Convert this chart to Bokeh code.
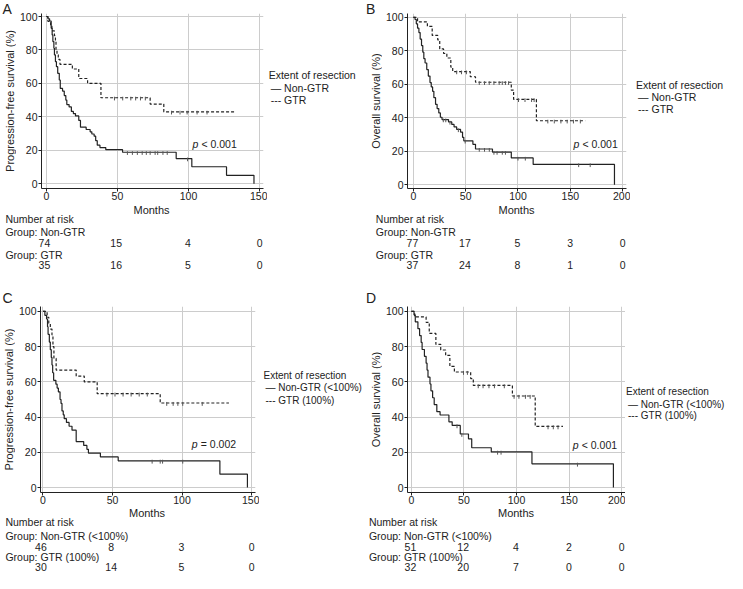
import numpy as np
from bokeh.plotting import figure
from bokeh.layouts import column, row
from bokeh.models import Label, FixedTicker, Range1d
from bokeh.core.properties import value
from bokeh.embed import file_html
from bokeh.resources import INLINE

FONT = "Liberation Sans"
INK = "#222222"

# ---------------- data (months, % surviving) ----------------
# Panel A : progression-free survival
A_NON_T = [0, 1.1, 2.3, 3.4, 4.1, 4.6, 5.3, 5.7, 6.4, 7.1, 8.0, 9.1, 9.8, 11.4, 12.6, 13.7, 14.4, 16.0, 17.6,
           19.0, 20.5, 22.8, 24.0, 28.0, 30.8, 32.0, 33.6, 34.7, 35.8, 37.7, 41.8, 53.6, 91.3, 102.3, 126.7, 146.0]
A_NON_S = [100, 98.6, 97.3, 93.0, 89.0, 85.0, 81.0, 77.0, 73.0, 70.0, 66.0, 62.0, 57.0, 55.4, 52.7, 50.0, 47.3, 45.9, 43.2,
           41.9, 40.5, 37.8, 33.8, 32.4, 31.0, 29.7, 28.4, 25.7, 23.0, 21.6, 20.3, 18.8, 15.0, 10.1, 5.0, 0.0]
A_NON_CENS = [57, 60.5, 64, 67.4, 70.3, 73, 76.5, 78.3, 82, 85, 99.3]
A_GTR_T = [0, 1.1, 3.0, 3.9, 5.7, 6.4, 6.8, 7.5, 8.4, 9.6, 18.3, 22.8, 29.0, 38.4, 73.0, 82.6, 133.0]
A_GTR_S = [100, 97.1, 94.3, 91.4, 88.6, 85.7, 80.0, 77.1, 74.3, 71.4, 68.6, 62.9, 60.0, 51.4, 47.6, 43.0, 43.0]
A_GTR_CENS = [47.9, 53.7, 59.4, 62.8, 66.2, 69.6, 88, 94, 99, 106, 113]
A_RISK_NON = [74, 15, 4, 0]
A_RISK_GTR = [35, 16, 5, 0]
A_TICKS = [0, 50, 100, 150]

# Panel B : overall survival
B_NON_T = [0, 1.6, 2.8, 4.0, 5.3, 6.5, 7.8, 9.0, 10.0, 11.2, 12.8, 14.3, 15.9, 17.1, 18.4, 19.6, 21.2, 22.7, 24.3,
           25.8, 27.4, 33.6, 36.7, 38.9, 41.4, 45.1, 47.0, 48.2, 56.9, 59.4, 75.6, 93.6, 114.5, 192.2]
B_NON_S = [100, 98.7, 96.1, 93.5, 90.9, 87.0, 83.1, 79.2, 75.3, 72.7, 68.8, 64.9, 61.0, 58.4, 55.8, 52.0, 48.0, 45.5, 42.9,
           40.3, 38.9, 37.5, 36.0, 34.5, 33.0, 31.4, 28.3, 26.2, 24.1, 21.3, 19.5, 16.0, 12.1, 0.0]
B_NON_CENS = [28.6, 31, 35, 43, 49.5, 63, 68, 72.6, 77, 80, 85, 88, 100, 107, 158, 169]
B_GTR_T = [0, 4.0, 13.4, 18.0, 23.3, 25.2, 28.9, 32.0, 35.8, 37.6, 54.4, 59.4, 93.6, 95.8, 117.6, 164.2]
B_GTR_S = [100, 97.3, 94.6, 89.2, 86.5, 81.1, 78.4, 75.7, 70.3, 67.6, 64.5, 61.2, 56.5, 51.0, 38.2, 38.2]
B_GTR_CENS = [41.4, 46, 50.7, 63, 68, 72.5, 77, 82, 85, 88, 91, 100.5, 106.7, 113, 115.4,
              128.5, 134.7, 141, 147, 153, 159.6]
B_RISK_NON = [77, 17, 5, 3, 0]
B_RISK_GTR = [37, 24, 8, 1, 0]
B_TICKS = [0, 50, 100, 150, 200]

# Panel C : progression-free survival, complete resection
C_NON_T = [0, 1.4, 2.6, 3.3, 3.7, 4.6, 5.3, 6.0, 6.5, 7.0, 7.7, 9.3, 10.2, 11.1, 12.3, 13.0, 13.7, 14.6, 15.3,
           16.9, 18.8, 20.9, 23.9, 29.3, 31.6, 32.7, 41.3, 54.1, 127.2, 147.0]
C_NON_S = [100, 97.8, 95.7, 91.3, 87.0, 82.6, 78.3, 73.9, 69.6, 65.2, 60.9, 58.7, 56.5, 54.3, 50.0, 47.8, 43.5, 41.3, 39.1,
           37.0, 34.8, 32.6, 26.1, 23.9, 21.7, 19.6, 17.4, 15.2, 7.6, 0.0]
C_NON_CENS = [78.5, 84.3, 86, 100.5]
C_GTR_T = [0, 3.0, 4.2, 5.3, 6.5, 7.2, 7.9, 9.5, 23.9, 29.7, 39.0, 84.3, 133.7]
C_GTR_S = [100, 96.7, 93.3, 90.0, 86.7, 80.0, 73.3, 66.7, 63.3, 60.0, 53.3, 48.0, 48.0]
C_GTR_CENS = [46, 51.8, 57.6, 63.4, 69.2, 75, 89, 93.6, 97, 100.5, 114.5]
C_RISK_NON = [46, 8, 3, 0]
C_RISK_GTR = [30, 14, 5, 0]
C_TICKS = [0, 50, 100, 150]

# Panel D : overall survival, complete resection
D_NON_T = [0, 2.5, 3.7, 6.2, 7.8, 9.3, 10.2, 12.4, 14.0, 14.9, 15.8, 17.7, 18.6, 20.2, 21.7, 24.2, 27.3, 35.7,
           38.8, 46.5, 54.3, 57.4, 76.0, 114.7, 192.2]
D_NON_S = [100, 98.0, 94.1, 90.2, 86.3, 82.4, 78.4, 74.5, 70.6, 66.7, 62.7, 58.8, 54.9, 51.0, 47.1, 43.1, 41.2, 37.3,
           35.3, 30.4, 27.7, 22.6, 20.3, 13.5, 0.0]
D_NON_CENS = [43.4, 48, 82, 85.3, 158]
D_GTR_T = [0, 3.1, 14.0, 17.0, 23.3, 27.9, 32.6, 36.6, 40.9, 56.4, 58.9, 96.1, 117.8, 144.2]
D_GTR_S = [100, 96.9, 93.8, 87.5, 81.3, 78.1, 75.0, 68.8, 65.6, 61.9, 58.0, 52.0, 34.7, 34.7]
D_GTR_CENS = [49.6, 53.3, 63.6, 68.2, 73.8, 79, 88.4, 97.7, 102.3, 108.5, 113, 130, 135, 139.5]
D_RISK_NON = [51, 12, 4, 2, 0]
D_RISK_GTR = [32, 20, 7, 0, 0]
D_TICKS = [0, 50, 100, 150, 200]

Y_TICKS = [0, 20, 40, 60, 80, 100]
GROUPS_AB = ["Non-GTR", "GTR"]
GROUPS_CD = ["Non-GTR (<100%)", "GTR (100%)"]


def blank(w, h, xr, yr, top=0, bottom=0):
    f = figure(width=w, height=h, x_range=xr, y_range=yr, x_axis_type=None, y_axis_type=None,
               output_backend="svg", toolbar_location=None,
               min_border_left=0, min_border_right=0, min_border_top=top, min_border_bottom=bottom)
    f.grid.visible = False
    f.outline_line_color = None
    return f


def txt(f, xs, ys, texts, size="10.5px", align="left", angle=0.0, style="normal"):
    f.text(x=xs, y=ys, text=texts, text_font=value(FONT), text_font_size=size,
           text_color=INK, text_align=align, text_baseline="middle", angle=angle,
           text_font_style=style)


def panel(pw, lh, strip_w, km_border, frame_w, km_right, top, frame_h, bottom, ph,
          xr, yr, ticks, ylabel, ylabel_x, curves, risks, groups,
          leg_x, leg_y, leg_size, letter, letter_xy, pval, pval_xy, risk_rows, row_x):
    km_w = km_border + frame_w + km_right
    leg_w = pw - strip_w - km_w
    h1 = top + frame_h + bottom
    h2 = ph - h1

    # ---- survival curves with their own axes
    p = figure(width=km_w, height=h1, x_range=Range1d(*xr), y_range=Range1d(*yr),
               output_backend="svg", toolbar_location=None,
               min_border_left=km_border, min_border_right=km_right,
               min_border_top=top, min_border_bottom=bottom)
    p.outline_line_color = None
    p.xaxis.ticker = FixedTicker(ticks=ticks)
    p.yaxis.ticker = FixedTicker(ticks=Y_TICKS)
    p.xgrid.ticker = FixedTicker(ticks=ticks)
    p.ygrid.ticker = FixedTicker(ticks=Y_TICKS)
    p.grid.grid_line_color = "#cccccc"
    p.grid.grid_line_width = 1
    for ax in (p.xaxis, p.yaxis):
        ax.axis_line_color = INK
        ax.major_tick_line_color = INK
        ax.major_tick_out = 3
        ax.major_tick_in = 0
        ax.minor_tick_line_color = None
        ax.major_label_text_font = FONT
        ax.major_label_text_font_size = "10.5px"
        ax.major_label_text_color = INK
    p.xaxis.major_label_standoff = 0
    p.yaxis.major_label_standoff = 1

    for (t, s, cens, dash) in curves:
        t = np.asarray(t, float)
        s = np.asarray(s, float)
        p.step(t, s, mode="after", line_color=INK, line_width=1.2, line_dash=dash)
        c = np.asarray(cens, float)
        cs = s[np.searchsorted(t, c, side="right") - 1]
        p.segment(x0=c, y0=cs + 0.6, x1=c, y1=cs - 1.6, line_color="#555555", line_width=1)

    p.add_layout(Label(x=pval_xy[0], y=pval_xy[1], text="p", text_font=FONT, text_font_size="10.5px",
                       text_color=INK, text_font_style="italic", text_baseline="middle"))
    p.add_layout(Label(x=pval_xy[0], y=pval_xy[1], text=pval, text_font=FONT, text_font_size="10.5px",
                       text_color=INK, text_baseline="middle", x_offset=9))

    # ---- left column: panel letter above the y-axis title
    lt = blank(strip_w, lh, Range1d(0, strip_w), Range1d(lh, 0))
    txt(lt, [letter_xy[0]], [letter_xy[1]], [letter], size="14px")
    sh = h1 - lh
    st = blank(strip_w, sh, Range1d(0, strip_w), Range1d(sh, 0))
    txt(st, [ylabel_x], [top + frame_h / 2 - lh], [ylabel], size="11px", align="center", angle=np.pi / 2)

    # ---- legend (frame aligned with the curve frame)
    lg = blank(leg_w, h1, Range1d(0, leg_w), Range1d(top + frame_h, top), top, bottom)
    txt(lg, [leg_x, leg_x + 2, leg_x + 2], leg_y,
        ["Extent of resection", "\u2014 " + groups[0], "--- " + groups[1]], size=leg_size)

    # ---- number-at-risk table, sharing the month scale of the curves
    fl = strip_w + km_border
    fr = fl + frame_w
    k = (xr[1] - xr[0]) / (fr - fl)
    rx0 = xr[0] - fl * k
    rx1 = xr[1] + (pw - fr) * k
    rk = blank(pw, h2, Range1d(rx0, rx1), Range1d(h2, 0))
    lx = rx0 + row_x * k
    txt(rk, [(xr[0] + xr[1]) / 2], [risk_rows[0]], ["Months"], size="11px", align="center")
    txt(rk, [lx, lx, lx], [risk_rows[1], risk_rows[2], risk_rows[4]],
        ["Number at risk", "Group: " + groups[0], "Group: " + groups[1]])
    txt(rk, ticks, [risk_rows[3]] * len(ticks), [str(n) for n in risks[0]], align="center")
    txt(rk, ticks, [risk_rows[5]] * len(ticks), [str(n) for n in risks[1]], align="center")

    return column(row(column(lt, st), p, lg), rk)


ROWS_TOP = [5.0, 14.0, 27.5, 38.3, 50.0, 60.8]
ROWS_BOT = [5.5, 14.5, 28.0, 39.5, 49.2, 59.8]

pA = panel(363, 16, 16, 23, 224, 4, 13, 175, 16, 283,
           (-3.4, 152.7), (-2.9, 101.8), A_TICKS, "Progression-free survival (%)", 9.8,
           [(A_NON_T, A_NON_S, A_NON_CENS, "solid"), (A_GTR_T, A_GTR_S, A_GTR_CENS, "3 2")],
           (A_RISK_NON, A_RISK_GTR), GROUPS_AB,
           1.2, [74.3, 87.0, 99.7], "10.5px", "A", (2, 8.0), "< 0.001", (102.7, 24), ROWS_TOP, 4.9)

pB = panel(364, 16, 19, 24, 220, 4, 13, 175, 16, 283,
           (-5.6, 203.7), (-2.3, 102.3), B_TICKS, "Overall survival (%)", 12.3,
           [(B_NON_T, B_NON_S, B_NON_CENS, "solid"), (B_GTR_T, B_GTR_S, B_GTR_CENS, "3 2")],
           (B_RISK_NON, B_RISK_GTR), GROUPS_AB,
           5.6, [84.0, 96.2, 108.4], "10.5px", "B", (2.4, 8.0), "< 0.001", (153, 24), ROWS_TOP, 12.3)

pC = panel(363, 22, 15, 23, 217, 4, 23, 186, 15, 290,
           (-1.75, 152.8), (-2.8, 102.8), C_TICKS, "Progression-free survival (%)", 8.2,
           [(C_NON_T, C_NON_S, C_NON_CENS, "solid"), (C_GTR_T, C_GTR_S, C_GTR_CENS, "3 2")],
           (C_RISK_NON, C_RISK_GTR), GROUPS_CD,
           4.0, [92.2, 104.4, 116.6], "10px", "C", (2, 14), "= 0.002", (107, 25), ROWS_BOT, 4.9)

pD = panel(364, 22, 19, 24, 219, 0, 23, 186, 15, 290,
           (-3.7, 203.7), (-2.8, 102.8), D_TICKS, "Overall survival (%)", 12.3,
           [(D_NON_T, D_NON_S, D_NON_CENS, "solid"), (D_GTR_T, D_GTR_S, D_GTR_CENS, "3 2")],
           (D_RISK_NON, D_RISK_GTR), GROUPS_CD,
           0.5, [107.8, 120.5, 132.2], "10px", "D", (2.4, 14), "< 0.001", (153.5, 23.9), ROWS_BOT, 5.4)

layout = column(row(pA, pB), row(pC, pD))
open("out.html", "w").write(file_html(layout, INLINE))
